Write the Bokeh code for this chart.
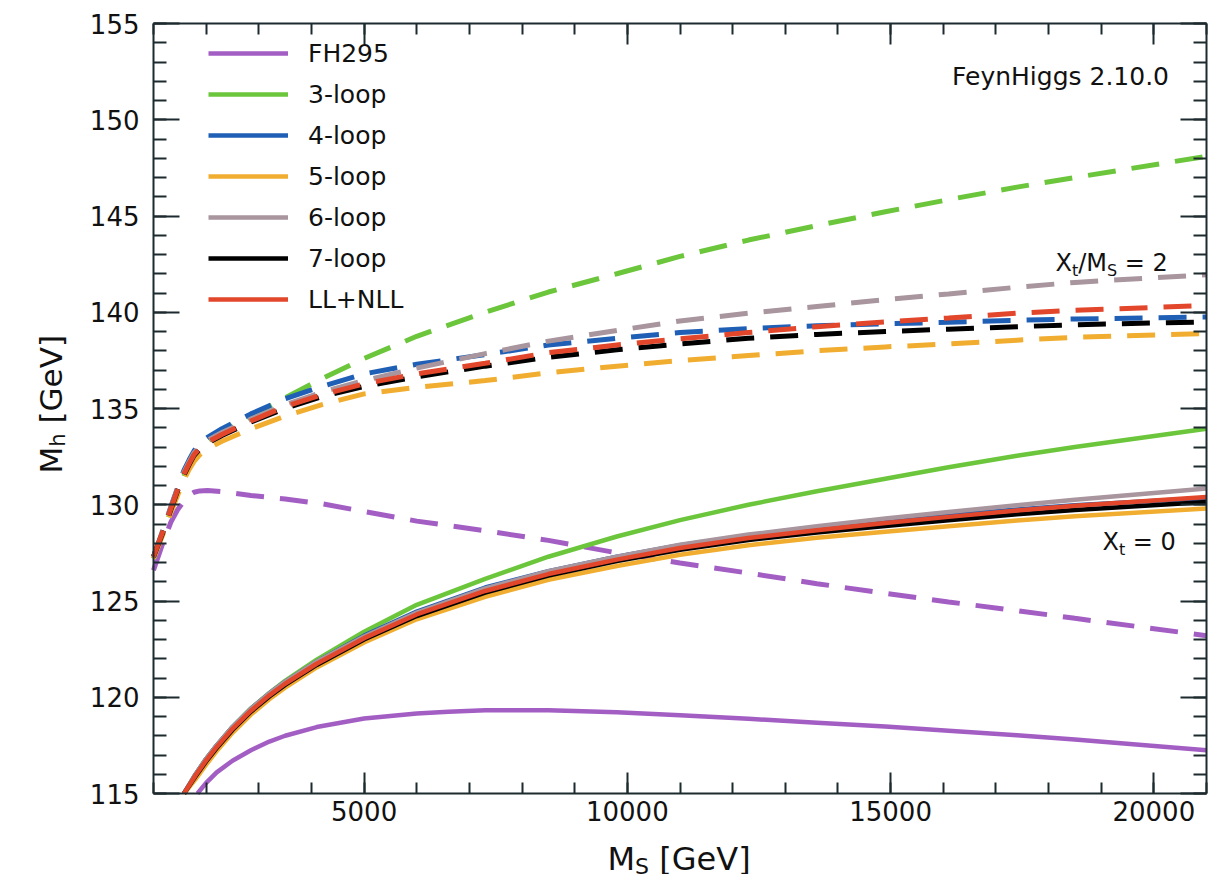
import math
from bokeh.plotting import figure
from bokeh.models import (Range1d, LinearAxis, SingleIntervalTicker, Label, Legend,
                          LegendItem, CustomJSTickFormatter)
from bokeh.embed import file_html
from bokeh.resources import INLINE

# ---------------- data ----------------
series_names = ["FH295", "3-loop", "4-loop", "5-loop", "6-loop", "7-loop", "LL+NLL"]
series_colors = ["#a35ec4", "#6cc63c", "#1f5fb5", "#f1ad30", "#a8959e", "#000000", "#e2462b"]

# Xt = 0 (solid)
ms_fh = [1835, 2000, 2200, 2500, 2850, 3200, 3500, 4100, 5000, 6000, 6600, 7300, 8500,
         9800, 11000, 12300, 13600, 14900, 16100, 17400, 18500, 21000]
fh295_solid = [115.0, 115.55, 116.1, 116.7, 117.25, 117.7, 118.0, 118.45, 118.9, 119.15,
               119.25, 119.32, 119.32, 119.22, 119.07, 118.88, 118.68, 118.48, 118.26, 118.02,
               117.8, 117.25]

ms_solid = [1580, 1800, 2000, 2200, 2500, 2850, 3200, 3500, 4100, 5000, 6000, 7300, 8500,
            9800, 11000, 12300, 13600, 14900, 16100, 17400, 18500, 21000]
loop3_solid = [115.0, 116.0, 116.8, 117.5, 118.45, 119.42, 120.22, 120.85, 121.95, 123.4,
               124.8, 126.15, 127.3, 128.35, 129.2, 130.0, 130.7, 131.35, 131.95, 132.55,
               133.0, 133.95]
loop4_solid = [115.0, 116.0, 116.8, 117.5, 118.45, 119.4, 120.2, 120.8, 121.85, 123.2,
               124.45, 125.7, 126.55, 127.3, 127.9, 128.4, 128.8, 129.15, 129.45, 129.75,
               129.98, 130.35]
loop5_solid = [115.0, 115.75, 116.5, 117.2, 118.15, 119.1, 119.9, 120.5, 121.55, 122.85,
               124.05, 125.22, 126.1, 126.82, 127.4, 127.9, 128.28, 128.6, 128.88, 129.18,
               129.4, 129.8]
loop6_solid = [115.0, 116.0, 116.8, 117.5, 118.45, 119.4, 120.2, 120.8, 121.85, 123.15,
               124.4, 125.65, 126.55, 127.3, 127.92, 128.45, 128.88, 129.28, 129.62, 129.98,
               130.26, 130.85]
loop7_solid = [115.0, 115.9, 116.67, 117.36, 118.3, 119.25, 120.04, 120.64, 121.68, 123.0,
               124.22, 125.44, 126.32, 127.07, 127.66, 128.17, 128.56, 128.9, 129.2, 129.5,
               129.73, 130.14]
llnll_solid = [115.0, 115.95, 116.72, 117.42, 118.36, 119.3, 120.1, 120.7, 121.74, 123.07,
               124.3, 125.52, 126.4, 127.15, 127.75, 128.27, 128.68, 129.05, 129.37, 129.7,
               129.95, 130.4]

# Xt/MS = 2 (dashed)
ms_dash = [1000, 1170, 1330, 1460, 1580, 1680, 1770, 1880, 2025, 2300, 2850, 3500, 4200,
           5000, 6000, 7300, 8500, 9800, 11000, 12300, 13600, 14900, 16100, 17400, 18500, 21000]
fh295_dash = [126.6, 127.95, 129.1, 129.75, 130.2, 130.5, 130.65, 130.72, 130.74, 130.68,
              130.48, 130.3, 130.05, 129.65, 129.15, 128.65, 128.15, 127.5, 126.97, 126.45,
              125.9, 125.4, 124.95, 124.5, 124.1, 123.2]
loop3_dash = [127.2, 128.45, 129.7, 130.7, 131.5, 132.0, 132.4, 132.85, 133.3, 133.8,
              134.6, 135.55, 136.55, 137.6, 138.75, 140.0, 141.05, 142.0, 142.9, 143.75,
              144.5, 145.22, 145.85, 146.5, 147.0, 148.1]
loop4_dash = [127.3, 128.6, 129.9, 130.9, 131.8, 132.35, 132.8, 133.2, 133.5, 133.95,
              134.72, 135.5, 136.15, 136.8, 137.3, 137.8, 138.3, 138.65, 138.95, 139.15,
              139.3, 139.4, 139.48, 139.58, 139.65, 139.75]
loop5_dash = [127.2, 128.4, 129.6, 130.5, 131.3, 131.85, 132.25, 132.6, 132.9, 133.3,
              133.95, 134.6, 135.2, 135.76, 136.1, 136.45, 136.85, 137.2, 137.49, 137.75,
              138.0, 138.2, 138.35, 138.55, 138.7, 138.9]
loop6_dash = [127.3, 128.6, 129.85, 130.85, 131.7, 132.25, 132.7, 133.05, 133.35, 133.75,
              134.45, 135.2, 135.85, 136.45, 137.1, 137.85, 138.5, 139.05, 139.55, 139.95,
              140.3, 140.65, 140.95, 141.3, 141.55, 141.95]
loop7_dash = [127.3, 128.5, 129.75, 130.75, 131.55, 132.1, 132.55, 132.9, 133.2, 133.6,
              134.3, 135.0, 135.62, 136.15, 136.65, 137.2, 137.66, 138.05, 138.35, 138.65,
              138.85, 139.0, 139.12, 139.25, 139.35, 139.5]
llnll_dash = [127.3, 128.55, 129.8, 130.8, 131.6, 132.15, 132.6, 132.95, 133.25, 133.65,
              134.35, 135.1, 135.72, 136.28, 136.8, 137.35, 137.9, 138.3, 138.62, 138.95,
              139.25, 139.5, 139.7, 139.95, 140.1, 140.35]

x_lim = (1000, 21000)
y_lim = (115, 155)

# ---------------- geometry: whole canvas is the frame, plot box placed inside ----------------
FONT = "DejaVu Sans"
AX = "#1d2a2f"
TXT = "#111111"
W, H = 1209, 874
BOX_L, BOX_R, BOX_T, BOX_B = 153, 1206, 23, 793

kx = (x_lim[1] - x_lim[0]) / (BOX_R - BOX_L)
ky = (y_lim[1] - y_lim[0]) / (BOX_B - BOX_T)
xr = Range1d(x_lim[0] - BOX_L * kx, x_lim[1] + (W - BOX_R) * kx)
yr = Range1d(y_lim[0] - (H - BOX_B) * ky, y_lim[1] + BOX_T * ky)

p = figure(width=W, height=H, output_backend="svg", toolbar_location=None, title=None,
           x_range=xr, y_range=yr, x_axis_location=None, y_axis_location=None,
           min_border=0)
p.xgrid.visible = False
p.ygrid.visible = False
p.outline_line_color = None
p.background_fill_color = "white"
p.border_fill_color = "white"


def add_axis(kind, side, loc, labels):
    if kind == "x":
        ax = LinearAxis(ticker=SingleIntervalTicker(interval=5000, num_minor_ticks=5),
                        bounds=x_lim, fixed_location=loc,
                        major_tick_in=21, major_tick_out=0, minor_tick_in=11, minor_tick_out=0)
    else:
        ax = LinearAxis(ticker=SingleIntervalTicker(interval=5, num_minor_ticks=5),
                        bounds=y_lim, fixed_location=loc,
                        major_tick_in=26, major_tick_out=0, minor_tick_in=13, minor_tick_out=0)
    ax.axis_line_color = AX
    ax.axis_line_width = 2
    ax.major_tick_line_color = AX
    ax.major_tick_line_width = 2
    ax.minor_tick_line_color = AX
    ax.minor_tick_line_width = 2
    ax.major_label_text_font = FONT
    ax.major_label_text_color = TXT
    ax.major_label_text_font_size = "26px"
    if labels:
        ax.major_label_standoff = 7 if kind == "x" else 14
    else:
        ax.formatter = CustomJSTickFormatter(code="return ''")
        ax.major_label_standoff = 0
        ax.major_label_text_font_size = "0px"
    p.add_layout(ax, side)


add_axis("x", "below", y_lim[0], True)
add_axis("x", "above", y_lim[1], False)
add_axis("y", "left", x_lim[0], True)
add_axis("y", "right", x_lim[1], False)

solid_sets = [(ms_fh, fh295_solid), (ms_solid, loop3_solid), (ms_solid, loop4_solid),
              (ms_solid, loop5_solid), (ms_solid, loop6_solid), (ms_solid, loop7_solid),
              (ms_solid, llnll_solid)]
dash_sets = [fh295_dash, loop3_dash, loop4_dash, loop5_dash, loop6_dash, loop7_dash, llnll_dash]

for ys, col in zip(dash_sets, series_colors):
    p.line(ms_dash, ys, line_color=col, line_width=5, line_dash="28 16")

items = []
for (xs, ys), col, name in zip(solid_sets, series_colors, series_names):
    r = p.line(xs, ys, line_color=col, line_width=4.5)
    items.append(LegendItem(label=name, renderers=[r]))

legend = Legend(items=items, location=(BOX_L + 55, H - BOX_B + 479), margin=0, padding=0,
                glyph_width=80, glyph_height=30, label_height=30, spacing=11,
                label_standoff=20, label_text_font=FONT, label_text_font_size="25px",
                label_text_color=TXT, border_line_color=None,
                background_fill_alpha=0.0)
p.add_layout(legend)


def txt(s, px, py, size, align="left", angle=0.0):
    """Text placed at a page-pixel position, anchored on the plot box corner (x_lim[0], y_lim[0])."""
    p.add_layout(Label(x=x_lim[0], y=y_lim[0], x_offset=px - BOX_L, y_offset=BOX_B - py,
                       text=s, text_font=FONT, text_font_size=f"{size}px",
                       text_color=TXT, text_align=align, text_baseline="alphabetic",
                       angle=angle))


# FeynHiggs tag
txt("FeynHiggs 2.10.0", 1060, 76, 25, align="center")

# X_t/M_S = 2
x0, b0 = 1055, 262.5
txt("X", x0, b0, 24)
txt("t", x0 + 16.4, b0 + 7.5, 16)
txt("/M", x0 + 22.7, b0, 24)
txt("S", x0 + 51.5, b0 + 7.5, 16)
txt("= 2", x0 + 69.3, b0, 24)

# X_t = 0
x1, b1 = 1102, 541.5
txt("X", x1, b1, 24)
txt("t", x1 + 16.4, b1 + 7.5, 16)
txt("= 0", x1 + 30.3, b1, 24)

# x-axis title: M_S [GeV]
xa, ba = 607, 858
txt("M", xa, ba, 32)
txt("S", xa + 27.6, ba + 8, 22)
txt("[GeV]", xa + 51.8, ba, 32)

# y-axis title: M_h [GeV]  (reads bottom to top)
yx, yb = 50, 473
txt("M", yx, yb, 31, angle=math.pi / 2)
txt("h", yx + 7, yb - 26.8, 21, angle=math.pi / 2)
txt("[GeV]", yx, yb - 50.0, 31, angle=math.pi / 2)

open("out.html", "w").write(file_html(p, INLINE))
